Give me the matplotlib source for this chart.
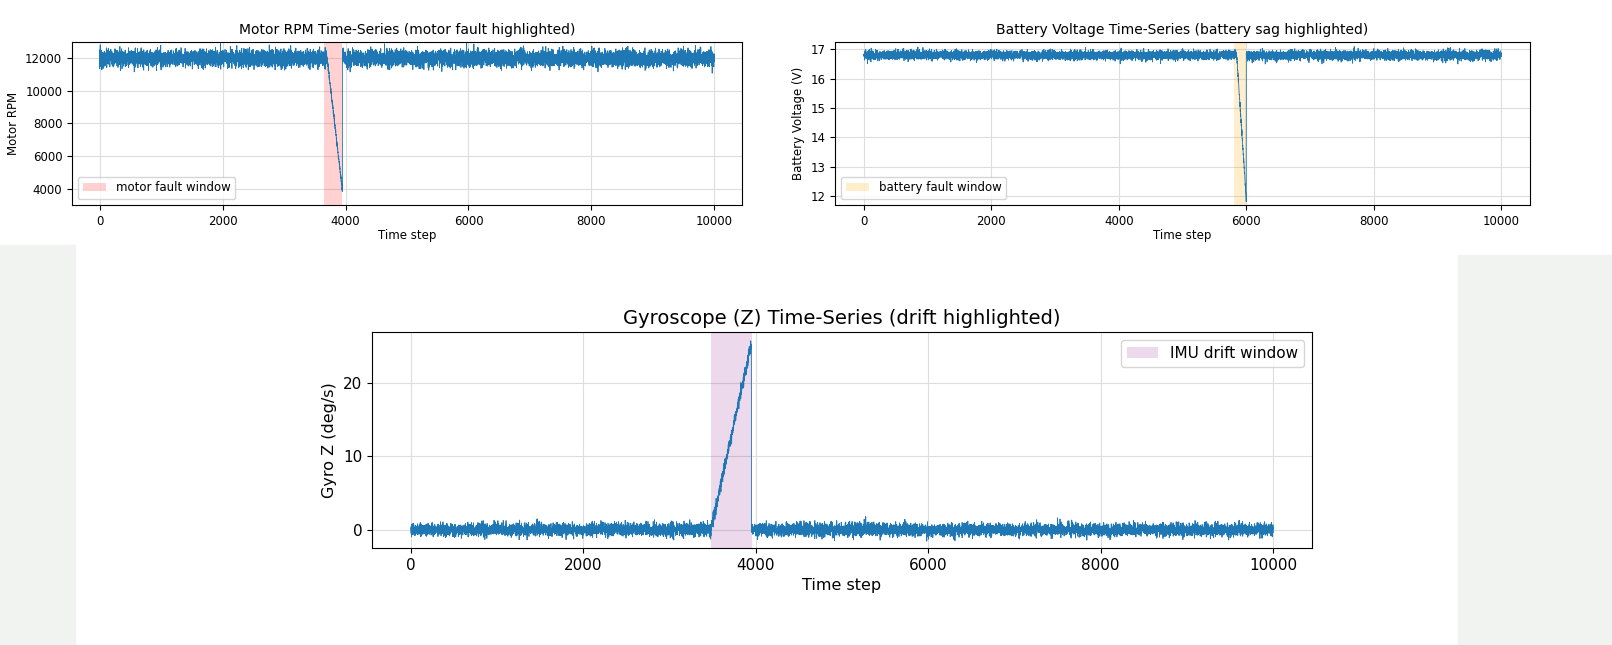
import numpy as np
import matplotlib.pyplot as plt
from matplotlib.patches import Rectangle

N = 10000
motor_base, motor_noise = 12000, 250
motor_win = (3650, 3950); motor_end = 3900
batt_base, batt_noise = 16.8, 0.08
batt_win = (5800, 6000); batt_ramp_start = 5850; batt_end = 11.9
gyro_base, gyro_noise = 0.0, 0.45
gyro_win = (3480, 3960); gyro_end = 25.5

rng = np.random.default_rng(3)
t = np.arange(N)

motor = motor_base + rng.normal(0, motor_noise, N)
m = (t >= 3700) & (t < motor_win[1])
motor[m] = np.linspace(motor_base, motor_end, m.sum()) + rng.normal(0, 80, m.sum())

batt = batt_base + rng.normal(0, batt_noise, N)
b = (t >= batt_ramp_start) & (t < batt_win[1])
batt[b] = np.linspace(batt_base, batt_end, b.sum()) + rng.normal(0, 0.05, b.sum())

gyro = gyro_base + rng.normal(0, gyro_noise, N)
g = (t >= gyro_win[0]) & (t < gyro_win[1] - 10)
gyro[g] = np.linspace(0, gyro_end, g.sum()) + rng.normal(0, 0.4, g.sum())

W, H = 1612, 645
fig = plt.figure(figsize=(W/100, H/100), dpi=100)
fig.add_artist(Rectangle((0, 0), 75/W, 400/H, transform=fig.transFigure, color='#f1f3f1', zorder=-1))
fig.add_artist(Rectangle((1458/W, 0), 154/W, 390/H, transform=fig.transFigure, color='#f1f3f1', zorder=-1))

def ax_at(x0, y0, x1, y1):
    return fig.add_axes([x0/W, 1-y1/H, (x1-x0)/W, (y1-y0)/H])

def style(ax, fs):
    ax.grid(True, color='#dddddd', linewidth=0.8)
    ax.set_axisbelow(True)
    ax.tick_params(labelsize=fs)
    ax.set_xlim(-450, 10450)
    ax.set_xticks(range(0, 10001, 2000))

ax1 = ax_at(72, 42, 742, 205)
ax1.axvspan(*motor_win, color='red', alpha=0.18, label='motor fault window', lw=0)
ax1.plot(t, motor, color='#1f77b4', lw=0.6)
ax1.set_ylim(3000, 13000)
ax1.set_yticks(range(4000, 12001, 2000))
style(ax1, 8.5)
ax1.set_title('Motor RPM Time-Series (motor fault highlighted)', fontsize=10)
ax1.set_xlabel('Time step', fontsize=8.5, labelpad=1)
ax1.set_ylabel('Motor RPM', fontsize=8.5)
ax1.legend(loc='lower left', fontsize=8.5)

ax2 = ax_at(835, 42, 1530, 205)
ax2.axvspan(*batt_win, color='orange', alpha=0.2, label='battery fault window', lw=0)
ax2.plot(t, batt, color='#1f77b4', lw=0.6)
ax2.set_ylim(11.7, 17.25)
style(ax2, 8.5)
ax2.set_title('Battery Voltage Time-Series (battery sag highlighted)', fontsize=10)
ax2.set_xlabel('Time step', fontsize=8.5, labelpad=1)
ax2.set_ylabel('Battery Voltage (V)', fontsize=8.5)
ax2.legend(loc='lower left', fontsize=8.5)

ax3 = ax_at(372, 332, 1312, 548)
ax3.axvspan(*gyro_win, color='purple', alpha=0.15, label='IMU drift window', lw=0)
ax3.plot(t, gyro, color='#1f77b4', lw=0.6)
ax3.set_ylim(-2.5, 27)
ax3.set_yticks([0, 10, 20])
style(ax3, 11)
ax3.set_title('Gyroscope (Z) Time-Series (drift highlighted)', fontsize=14)
ax3.set_xlabel('Time step', fontsize=11.5)
ax3.set_ylabel('Gyro Z (deg/s)', fontsize=11.5)
ax3.legend(loc='upper right', fontsize=11)

fig.savefig('out.png', dpi=100)
